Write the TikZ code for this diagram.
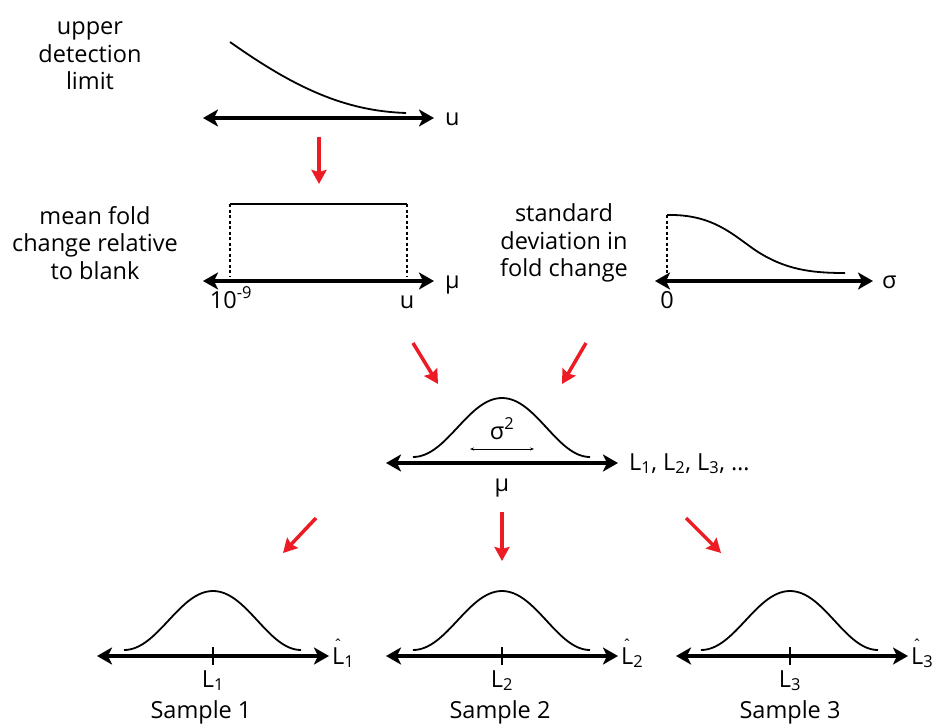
\documentclass[tikz,border=0pt]{standalone}
\usepackage{fontspec}
\setmainfont{Open Sans}
\usetikzlibrary{arrows.meta}
\definecolor{arrowred}{RGB}{237,28,36}
\tikzset{
  axisline/.style={line width=3.8pt,{Stealth[length=15pt,width=17pt,inset=4pt]}-{Stealth[length=15pt,width=17pt,inset=4pt]}},
  curveline/.style={line width=1.8pt},
  dotline/.style={line width=1.6pt,dash pattern=on 3pt off 2.5pt},
  redarrow/.style={draw=arrowred,line width=3.5pt,-{Stealth[length=14pt,width=15pt,inset=2pt]}},
  lbl/.style={inner sep=0pt,font=\fontsize{23.5}{27.5}\selectfont},
  para/.style={lbl,align=center},
  tickline/.style={line width=1.8pt},
  smallarr/.style={line width=0.7pt,{Stealth[length=4pt,width=3pt]}-{Stealth[length=4pt,width=3pt]}}
}
\newcommand{\hatL}{\makebox[0pt][l]{\hspace{1.5pt}\raisebox{14pt}{\fontsize{15}{15}\selectfont ˆ}}L}
\begin{document}
\begin{tikzpicture}[x=1pt,y=-1pt]
\useasboundingbox (0,0) rectangle (933,725);
% ---------- panel 1: upper detection limit
\node[para] (t1) at (90,56) {upper\\detection\\limit};
\coordinate (a1l) at (203,118); \coordinate (a1r) at (434,118);
\draw[axisline] (a1l) -- (a1r);
\node[lbl,anchor=base west] (u1) at (445,125) {u};
\coordinate (c1s) at (230,42); \coordinate (c1e) at (406,113);
\draw[curveline] (c1s) .. controls (295,88) and (345,111) .. (c1e);
% red arrow 1
\coordinate (r1s) at (319,137); \coordinate (r1e) at (319,184);
\draw[redarrow] (r1s) -- (r1e);
% ---------- panel 2: mean fold change
\node[para] (t2) at (95,243) {mean fold\\change relative\\to blank};
\coordinate (a2l) at (203,281); \coordinate (a2r) at (434,281);
\draw[axisline] (a2l) -- (a2r);
\node[lbl,anchor=base west] (mu2) at (445,288) {μ};
\coordinate (b2l) at (230,204); \coordinate (b2r) at (407,204);
\coordinate (b2lb) at (230,277); \coordinate (b2rb) at (407,277);
\draw[curveline] (b2l) -- (b2r);
\draw[dotline] (b2l) -- (b2lb);
\draw[dotline] (b2r) -- (b2rb);
\node[lbl,anchor=base] (lo2) at (231,308) {10\textsuperscript{-9}};
\node[lbl,anchor=base] (hi2) at (407,308) {u};
% ---------- panel 3: standard deviation
\node[para] (t3) at (564,243) {standard\\deviation in\\fold change};
\coordinate (a3l) at (655,281); \coordinate (a3r) at (873,281);
\draw[axisline] (a3l) -- (a3r);
\node[lbl,anchor=base west] (s3) at (882,288) {σ};
\coordinate (c3s) at (667,215); \coordinate (c3e) at (845,273); \coordinate (c3b) at (667,278);
\draw[curveline] (c3s) .. controls (712,214) and (732,234) .. (755,250) .. controls (785,270) and (812,273) .. (c3e);
\draw[dotline] (c3s) -- (c3b);
\node[lbl,anchor=base] (z3) at (667,308) {0};
% red arrows 2,3
\coordinate (r2s) at (413,343); \coordinate (r2e) at (438,384);
\draw[redarrow] (r2s) -- (r2e);
\coordinate (r3s) at (586,343); \coordinate (r3e) at (562,384);
\draw[redarrow] (r3s) -- (r3e);
% ---------- middle distribution
\coordinate (aml) at (386,463); \coordinate (amr) at (618,463);
\draw[axisline] (aml) -- (amr);
\draw[curveline] (413,457) .. controls (447,457) and (468,398) .. (502,398)
  .. controls (536,398) and (557,457) .. (590,457);
\coordinate (sal) at (470,449); \coordinate (sar) at (534,449);
\draw[smallarr] (sal) -- (sar);
\node[lbl,anchor=base] (sig) at (502,439) {σ\textsuperscript{2}};
\node[lbl,anchor=base] (mum) at (502,491) {μ};
\node[lbl,anchor=base west] (ls) at (629,470) {L\textsubscript{1}, L\textsubscript{2}, L\textsubscript{3}, …};
% red arrows lower
\coordinate (r4s) at (316,518); \coordinate (r4e) at (283,553);
\draw[redarrow] (r4s) -- (r4e);
\coordinate (r5s) at (502,512); \coordinate (r5e) at (502,561);
\draw[redarrow] (r5s) -- (r5e);
\coordinate (r6s) at (686,518); \coordinate (r6e) at (721,553);
\draw[redarrow] (r6s) -- (r6e);
% ---------- samples
\foreach \c/\l/\r/\n/\sx in {213/97/329/1/201, 502/386/618/2/500, 790/676/908/3/790}{
  \coordinate (sl\n) at (\l,656); \coordinate (sr\n) at (\r,656);
  \draw[axisline] (sl\n) -- (sr\n);
  \draw[curveline] (\c-89,650) .. controls (\c-55,650) and (\c-34,591) .. (\c,591)
    .. controls (\c+34,591) and (\c+55,650) .. (\c+88,650);
  \coordinate (tk\n) at (\c,647); \coordinate (tb\n) at (\c,665);
  \draw[tickline] (tk\n) -- (tb\n);
  \node[lbl,anchor=base] (lt\n) at (\c,687) {L\textsubscript{\n}};
  \node[lbl,anchor=base] (sn\n) at (\sx,718) {Sample \n};
  \node[lbl,anchor=base west] (lh\n) at (\r+3,664) {\hatL\textsubscript{\n}};
}
\end{tikzpicture}
\end{document}
